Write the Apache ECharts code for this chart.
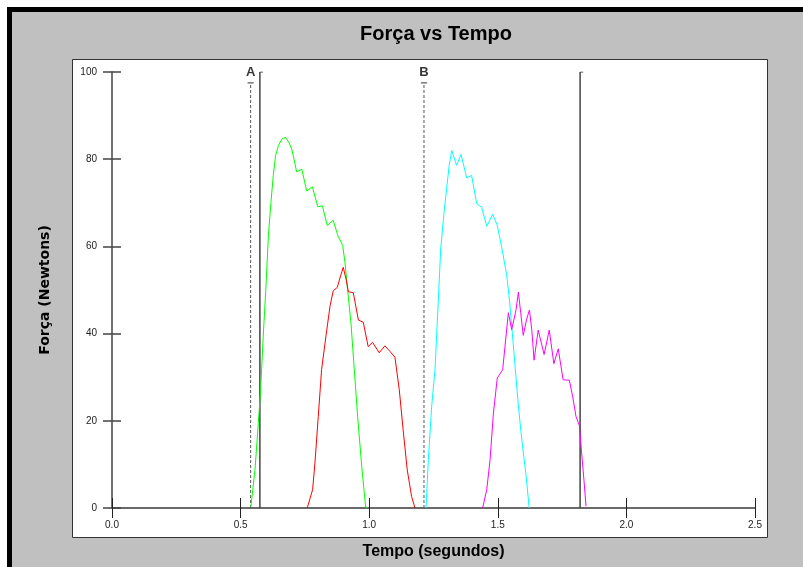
<!DOCTYPE html>
<html>
<head>
<meta charset="utf-8">
<style>html,body{margin:0;padding:0;background:#fff}#c{width:803px;height:567px}</style>
<script src="https://cdn.jsdelivr.net/npm/echarts@6/dist/echarts.min.js"></script>
</head>
<body>
<div id="c"></div>
<script>
// ---- data (time in seconds, force in newtons) ----
var xTicks = [0, 0.5, 1.0, 1.5, 2.0, 2.5];
var yTicks = [0, 20, 40, 60, 80, 100];

var greenT = [0.540,0.556,0.569,0.578,0.588,0.598,0.608,0.618,0.627,0.636,0.647,0.660,0.675,0.688,0.699,0.709,0.718,0.738,0.757,0.779,0.800,0.818,0.837,0.860,0.878,0.897,0.906,0.916,0.929,0.942,0.955,0.971,0.986,0.995];
var greenF = [0.3,8.8,19.6,27.2,39.4,50.1,62.4,70.1,76.2,80.8,83.1,84.6,85.0,83.8,82.3,79.6,77.1,77.7,72.7,73.7,69.1,69.3,64.8,66.0,62.5,60.2,56.2,50.1,42.5,31.7,21.0,9.5,0.3,0];

var redT = [0.759,0.780,0.789,0.802,0.815,0.832,0.848,0.860,0.876,0.889,0.899,0.910,0.919,0.938,0.958,0.977,0.996,1.013,1.039,1.061,1.081,1.100,1.117,1.132,1.148,1.165,1.178];
var redF = [0,4.2,10.3,21.0,31.8,39.5,46.4,49.8,50.6,53.3,55.2,52.5,49.6,49.4,43.1,42.6,37.0,38.0,35.6,37.2,35.9,34.6,27.1,17.9,8.7,2.6,0];

var cyanT = [1.221,1.230,1.243,1.256,1.269,1.278,1.291,1.301,1.311,1.321,1.340,1.357,1.379,1.398,1.418,1.437,1.457,1.480,1.498,1.519,1.535,1.545,1.554,1.567,1.580,1.593,1.610,1.622];
var cyanF = [0,11.1,23.4,31.8,47.9,59.4,67.8,73.2,78.6,82.0,78.6,81.1,75.7,76.3,69.8,69.0,64.6,67.4,64.8,58.6,53.2,47.9,41.8,32.6,23.4,15.8,7.4,0];

var magT = [1.441,1.457,1.470,1.483,1.498,1.519,1.528,1.541,1.554,1.571,1.580,1.589,1.599,1.612,1.623,1.632,1.641,1.657,1.680,1.700,1.718,1.735,1.754,1.778,1.791,1.804,1.817,1.826,1.835,1.843];
var magF = [0,4.2,11.1,21.8,29.8,31.7,37.1,44.8,40.9,45.5,49.5,44.8,39.6,43.3,45.4,40.9,33.9,40.8,35.2,40.8,33.1,36.5,29.4,29.3,25.6,21.0,18.9,12.6,6.4,0.4];

// vertical cursor markers
var markerNames = ['A', '', 'B', ''];
var markerT = [0.539, 0.575, 1.213, 1.820];
var markerTop = [97.5, 100, 97.5, 100];
var markerDashed = [true, false, true, false];

function pairs(t, f) { return t.map(function (v, i) { return [v, f[i]]; }); }

var series = [];
function curve(t, f, color) {
  series.push({ type: 'line', data: pairs(t, f), symbol: 'none', animation: false,
    lineStyle: { color: color, width: 1 }, z: 5 });
}
curve(greenT, greenF, '#00ff00');
curve(redT, redF, '#ff0000');
curve(cyanT, cyanF, '#00ffff');
curve(magT, magF, '#ff00ff');

markerT.forEach(function (t, i) {
  var dashed = markerDashed[i];
  series.push({ type: 'line', data: [[t, 0], [t, markerTop[i]]], symbol: 'none', animation: false, z: 4,
    lineStyle: { color: dashed ? '#555' : '#444', width: dashed ? 1 : 1.5, type: dashed ? [3, 2] : 'solid' } });
  var cap = dashed ? [[t - 0.012, markerTop[i]], [t + 0.012, markerTop[i]]] : [[t, markerTop[i]], [t + 0.012, markerTop[i]]];
  series.push({ type: 'line', data: cap, symbol: 'none', animation: false, z: 4,
    lineStyle: { color: '#333', width: 1 } });
  if (markerNames[i]) {
    series.push({ type: 'scatter', data: [{ value: [t, markerTop[i]], name: markerNames[i] }], symbolSize: 0,
      animation: false, z: 6,
      label: { show: true, position: 'top', distance: 4, formatter: '{b}', color: '#000',
        fontFamily: 'Liberation Sans', fontSize: 13, fontWeight: 'bold' } });
  }
});

var axisFont = { fontFamily: 'Liberation Sans', fontSize: 10, color: '#222' };

var chart = echarts.init(document.getElementById('c'), null, { renderer: 'canvas' });
chart.setOption({
  backgroundColor: '#ffffff',
  animation: false,
  title: {
    text: 'Força vs Tempo', left: 431, top: 19, textAlign: 'center',
    textStyle: { fontFamily: 'Liberation Sans', fontSize: 20, fontWeight: 'bold', color: '#000' }
  },
  graphic: [
    { type: 'rect', z: -100, shape: { x: 7, y: 7, width: 820, height: 580 }, style: { fill: '#000' }, silent: true },
    { type: 'rect', z: -99, shape: { x: 12, y: 12, width: 820, height: 580 }, style: { fill: '#c0c0c0' }, silent: true },
    { type: 'rect', z: -98, shape: { x: 72.5, y: 59.5, width: 695, height: 478 }, style: { fill: '#fff', stroke: '#333', lineWidth: 1 }, silent: true }
  ],
  grid: { left: 112, right: 48, top: 72, bottom: 59, containLabel: false, outerBoundsMode: 'none' },
  xAxis: [
    { type: 'value', min: xTicks[0], max: xTicks[xTicks.length - 1], interval: 0.5,
      name: 'Tempo (segundos)', nameLocation: 'middle', nameGap: 36,
      nameTextStyle: { fontFamily: 'Liberation Sans', fontSize: 16, fontWeight: 'bold', color: '#000' },
      axisLine: { show: true, lineStyle: { color: '#6a6a6a', width: 2 } },
      axisTick: { show: true, inside: false, length: 10, lineStyle: { color: '#222', width: 1 } },
      axisLabel: Object.assign({ margin: 12, formatter: function (v) { return v.toFixed(1); } }, axisFont),
      splitLine: { show: false } },
    { type: 'value', min: xTicks[0], max: xTicks[xTicks.length - 1], interval: 0.5, position: 'bottom',
      axisLine: { show: false }, axisTick: { show: true, inside: true, length: 10, lineStyle: { color: '#222', width: 1 } },
      axisLabel: { show: false }, splitLine: { show: false } }
  ],
  yAxis: [
    { type: 'value', min: yTicks[0], max: yTicks[yTicks.length - 1], interval: 20,
      name: 'Força (Newtons)', nameLocation: 'middle', nameGap: 60, nameRotate: 90,
      nameTextStyle: { fontFamily: 'DejaVu Sans', fontSize: 14, fontWeight: 'bold', color: '#000' },
      axisLine: { show: true, lineStyle: { color: '#444', width: 1.5 } },
      axisTick: { show: true, inside: false, length: 9, lineStyle: { color: '#444', width: 1.5 } },
      axisLabel: Object.assign({ margin: 15 }, axisFont),
      splitLine: { show: false } },
    { type: 'value', min: yTicks[0], max: yTicks[yTicks.length - 1], interval: 20, position: 'left',
      axisLine: { show: false }, axisTick: { show: true, inside: true, length: 9, lineStyle: { color: '#444', width: 1.5 } },
      axisLabel: { show: false }, splitLine: { show: false } }
  ],
  series: series
});
</script>
</body>
</html>
